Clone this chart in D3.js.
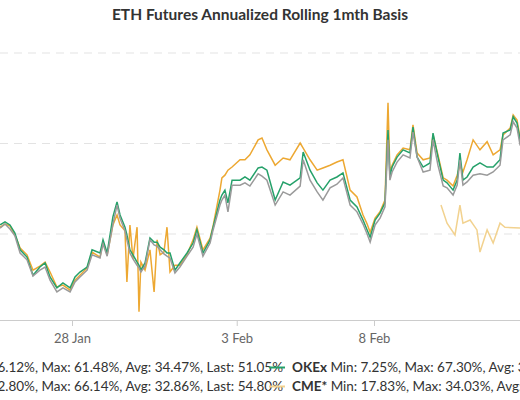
<!DOCTYPE html>
<html>
<head>
<meta charset="utf-8">
<script src="https://cdn.jsdelivr.net/npm/d3@7"></script>
<style>
  body { margin: 0; background: #fff; }
  text { font-family: Lato, "Open Sans", sans-serif; }
</style>
</head>
<body>
<svg id="chart" width="520" height="400"></svg>
<script>
// days offset from 28 Jan
const days = [-2.62,-2.44,-2.26,-2.08,-1.89,-1.64,-1.42,-1.17,-0.98,-0.80,-0.55,-0.33,-0.07,0.11,0.29,0.55,0.73,1.02,1.13,1.28,1.49,1.64,1.75,1.93,2.00,2.11,2.22,2.37,2.44,2.51,2.66,2.84,2.99,3.10,3.21,3.35,3.46,3.57,3.75,3.93,4.19,4.41,4.55,4.77,5.03,5.14,5.39,5.46,5.57,5.68,5.83,6.12,6.30,6.48,6.78,6.92,7.10,7.40,7.69,7.94,8.31,8.42,8.67,8.93,9.14,9.40,9.65,9.87,10.13,10.38,10.60,10.75,10.86,11.04,11.22,11.40,11.51,11.58,11.66,11.84,12.06,12.31,12.42,12.57,12.79,13.04,13.15,13.33,13.52,13.66,13.88,14.03,14.13,14.24,14.39,14.61,14.86,15.12,15.34,15.59,15.70,15.96,16.07,16.21,16.32,16.6];
const okex = [22.0,22.7,22.0,20.2,16.5,14.9,10.9,12.7,13.6,10.5,8.1,9.2,8.1,10.5,11.6,12.7,16.5,15.8,18.7,15.8,23.8,27.1,24.2,21.5,19.8,16.5,15.4,13.8,13.1,12.0,13.6,19.1,18.2,18.2,17.1,16.5,15.8,15.8,12.0,13.6,15.8,18.0,20.9,15.8,18.7,21.5,27.5,28.6,29.7,26.9,31.9,31.9,32.6,31.9,34.6,34.8,34.1,27.5,31.5,30.8,32.4,38.1,34.1,31.3,29.7,31.9,32.6,33.5,27.5,26.0,23.1,20.9,19.3,23.1,24.6,26.9,43.0,32.8,34.8,37.0,38.6,37.9,43.6,37.0,34.8,35.7,42.3,37.0,31.9,31.3,29.7,31.9,37.9,31.9,32.6,34.8,35.7,34.8,34.8,36.4,42.3,43.0,45.9,44.5,40.8,40.0];
const other = [21.3,22.2,21.1,19.6,15.8,14.3,10.7,12.0,12.7,9.8,7.2,8.1,7.2,9.4,10.5,12.0,15.4,14.7,17.8,15.1,22.2,26.4,23.5,20.7,18.7,15.8,14.5,13.1,12.5,11.6,12.9,18.7,17.6,17.3,16.5,15.6,15.1,14.7,11.4,12.7,15.1,17.1,20.0,15.1,18.0,20.9,26.4,27.5,28.6,24.9,30.8,30.8,31.3,30.6,33.3,32.8,31.9,26.4,29.3,28.6,30.6,36.4,31.9,29.3,27.5,30.2,31.0,32.4,26.4,24.9,22.2,20.0,18.2,22.0,23.5,26.0,40.8,31.9,33.7,35.9,37.5,36.8,42.5,37.0,33.7,34.1,40.8,35.2,30.6,30.2,28.6,30.8,36.4,30.8,31.5,33.0,33.3,33.0,33.7,35.2,40.8,41.9,44.8,43.4,39.7,39.0];
const deribit = [21.5,22.2,21.8,19.8,16.9,15.4,12.0,12.9,13.8,11.6,8.3,8.7,7.6,9.8,10.9,12.5,16.0,14.9,18.2,15.4,22.0,24.2,22.0,20.7,9.4,22.0,14.5,21.5,2.8,13.8,12.0,16.5,7.2,18.7,15.4,16.0,21.5,11.6,13.1,13.1,15.4,18.7,21.5,16.5,19.1,21.8,29.7,32.4,33.0,34.1,34.8,36.4,36.4,37.5,40.8,41.2,38.6,35.2,36.8,36.4,40.1,39.0,36.4,34.1,34.6,35.2,35.9,36.4,29.7,28.2,24.2,22.2,20.4,23.5,24.9,27.5,49.0,33.7,35.2,37.5,39.0,38.6,44.1,37.9,36.4,36.8,41.9,37.5,32.4,31.9,30.6,33.0,35.2,33.7,36.4,40.8,38.6,40.4,37.5,38.6,41.9,43.4,46.3,45.2,41.2,40.5];
const cmeDays = [13.44,13.66,13.95,14.13,14.24,14.50,14.75,14.86,15.12,15.34,15.59,15.77,16.32,16.6];
const cme = [26.4,22.4,19.8,26.4,22.4,23.1,20.9,16.0,20.9,18.0,22.4,21.5,21.3,21.3];
const gridValues = [20, 40, 60];
const tickDays = [0, 6, 11, 17];
const tickLabels = ["28 Jan", "3 Feb", "8 Feb", "14 Feb"];

const svg = d3.select("#chart");
const x = d3.scaleLinear().domain([0, 11]).range([72, 374]);
const y = d3.scaleLinear().domain([0, 60]).range([324.5, 53]);

svg.append("text")
  .attr("x", 260).attr("y", 20).attr("text-anchor", "middle")
  .attr("font-size", 15.5).attr("font-weight", "bold").attr("fill", "#333")
  .text("ETH Futures Annualized Rolling 1mth Basis");

svg.append("g").selectAll("line").data(gridValues).join("line")
  .attr("x1", 0).attr("x2", 520)
  .attr("y1", d => y(d)).attr("y2", d => y(d))
  .attr("stroke", "#e3e3e3").attr("stroke-dasharray", "8,6");

svg.append("defs").append("clipPath").attr("id", "plot")
  .append("rect").attr("x", 0).attr("y", 30).attr("width", 520).attr("height", 290);

const line = d3.line().x(d => x(d[0])).y(d => y(d[1]));
const series = [
  { vals: deribit, t: days, color: "#eda832" },
  { vals: okex, t: days, color: "#25a16a" },
  { vals: other, t: days, color: "#9a9a9a" },
  { vals: cme, t: cmeDays, color: "#f2d28f" }
];
svg.append("g").attr("clip-path", "url(#plot)").selectAll("path").data(series).join("path")
  .attr("d", s => line(s.t.map((d, i) => [d, s.vals[i]])))
  .attr("fill", "none").attr("stroke", s => s.color).attr("stroke-width", 1.5);

const axis = svg.append("g").attr("transform", "translate(0,320)")
  .call(d3.axisBottom(x).tickValues(tickDays).tickFormat((d, i) => tickLabels[i]).tickSizeOuter(0).tickPadding(8));
axis.select(".domain").attr("stroke", "#ccc").attr("d", "M0,0.5H520");
axis.selectAll(".tick line").attr("stroke", "#ccc").attr("y2", 6);
axis.selectAll(".tick text").attr("fill", "#666").attr("font-size", 13).attr("font-family", "Lato, sans-serif");

// legend
const legLeft = [
  { text: "Binance Min: 6.12%, Max: 61.48%, Avg: 34.47%, Last: 51.05%", y: 372 },
  { text: "Deribit Min: 2.80%, Max: 66.14%, Avg: 32.86%, Last: 54.80%", y: 391 }
];
const legRight = [
  { name: "OKEx", rest: " Min: 7.25%, Max: 67.30%, Avg: 33.91%, Last: 52.18%", color: "#25a16a", y: 372 },
  { name: "CME*", rest: " Min: 17.83%, Max: 34.03%, Avg: 23.12%, Last: 21.30%", color: "#f2d28f", y: 391 }
];
svg.append("g").selectAll("text").data(legLeft).join("text")
  .attr("x", 283).attr("y", d => d.y).attr("text-anchor", "end")
  .attr("font-size", 13.5).attr("fill", "#333").text(d => d.text);
svg.append("g").selectAll("line").data(legRight).join("line")
  .attr("x1", 269).attr("x2", 285).attr("y1", d => d.y - 4.5).attr("y2", d => d.y - 4.5)
  .attr("stroke", d => d.color).attr("stroke-width", 2);
const rt = svg.append("g").selectAll("text").data(legRight).join("text")
  .attr("x", 292).attr("y", d => d.y).attr("font-size", 13.5).attr("fill", "#333");
rt.append("tspan").attr("font-weight", "bold").text(d => d.name);
rt.append("tspan").text(d => d.rest);
</script>
</body>
</html>
